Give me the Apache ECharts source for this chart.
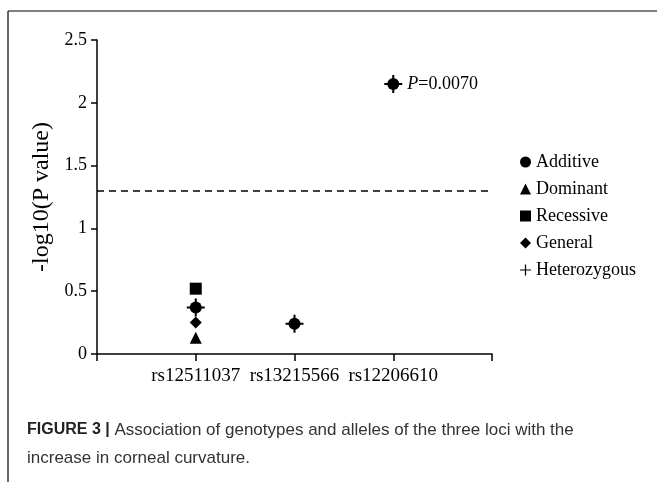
<!DOCTYPE html>
<html><head><meta charset="utf-8">
<script src="https://cdn.jsdelivr.net/npm/echarts@6/dist/echarts.min.js"></script>
<style>html,body{margin:0;padding:0;background:#fff}#c{width:657px;height:482px}</style>
</head><body><div id="c"></div>
<script>
const categories = ['', 'rs12511037', 'rs13215566', 'rs12206610', ''];
const additive     = [null, 0.37, 0.24, 2.15, null];
const dominant     = [null, 0.13, null, null, null];
const recessive    = [null, 0.52, null, null, null];
const general      = [null, 0.25, 0.24, 2.15, null];
const heterozygous = [null, 0.37, 0.24, 2.15, null];
const threshold = 1.301;
const yTicks = [0, 0.5, 1, 1.5, 2, 2.5];

const plusPath = 'path://M-0.9,-8 h1.8 v7.1 h7.1 v1.8 h-7.1 v7.1 h-1.8 v-7.1 h-7.1 v-1.8 h7.1 z';
const serif = '"Liberation Serif", "DejaVu Serif", serif';
const sans = '"Liberation Sans", Arial, sans-serif';

const chart = echarts.init(document.getElementById('c'));
function mk(name, data, symbol, size) {
  return {
    name, type: 'line', data, symbol, symbolSize: size,
    lineStyle: {opacity: 0}, itemStyle: {color: '#000'},
    showSymbol: true, silent: true, z: 3
  };
}
const series = [
  mk('Additive', additive, 'circle', 12),
  mk('Dominant', dominant, 'triangle', 12),
  mk('Recessive', recessive, 'rect', 12),
  mk('General', general, 'diamond', 12),
  mk('Heterozygous', heterozygous, plusPath, 18)
];
series[4].label = {
  show: true, position: 'right', distance: 5,
  formatter: p => p.dataIndex === 3 ? '{i|P}{n|=0.0070}' : '',
  rich: {
    i: {fontFamily: serif, fontStyle: 'italic', fontSize: 18, color: '#000'},
    n: {fontFamily: serif, fontSize: 18, color: '#000'}
  }
};
series[0].markLine = {
  silent: true, symbol: 'none',
  lineStyle: {color: '#000', type: [7, 5], width: 1.5},
  label: {show: false},
  data: [{yAxis: threshold}]
};

chart.setOption({
  animation: false,
  grid: {left: 97, right: 165, top: 40, bottom: 128},
  xAxis: {
    type: 'category', data: categories, boundaryGap: false,
    axisLine: {lineStyle: {color: '#000', width: 1.5}},
    axisTick: {show: true, length: 7, lineStyle: {color: '#000', width: 1.5}, interval: 0},
    axisLabel: {interval: 0, fontFamily: serif, fontSize: 19, color: '#000', margin: 13}
  },
  yAxis: {
    type: 'value', min: 0, max: 2.5, interval: 0.5,
    name: '-log10(P value)', nameLocation: 'middle', nameGap: 39,
    nameTextStyle: {fontFamily: serif, fontSize: 24, color: '#000'},
    splitLine: {show: false},
    axisLine: {show: true, lineStyle: {color: '#000', width: 1.5}},
    axisTick: {show: true, length: 6, lineStyle: {color: '#000', width: 1.5}},
    axisLabel: {fontFamily: serif, fontSize: 18, color: '#000', margin: 10,
      formatter: v => yTicks.includes(v) ? String(v) : ''}
  },
  legend: {
    orient: 'vertical', left: 515, top: 148, itemGap: 9,
    itemWidth: 11, itemHeight: 11,
    textStyle: {fontFamily: serif, fontSize: 18, lineHeight: 18, color: '#000'},
    data: series.map(s => ({name: s.name, icon: s.symbol}))
  },
  series,
  graphic: [
    {type: 'line', shape: {x1: 8, y1: 11, x2: 657, y2: 11}, style: {stroke: '#000', lineWidth: 1.2}},
    {type: 'line', shape: {x1: 8, y1: 11, x2: 8, y2: 482}, style: {stroke: '#000', lineWidth: 1.2}},
    {type: 'text', left: 27, top: 416, style: {
      text: '{b|FIGURE 3 |} Association of genotypes and alleles of the three loci with the\nincrease in corneal curvature.',
      rich: {b: {fontFamily: sans, fontWeight: 'bold', fontSize: 16, fill: '#222'}},
      fontFamily: sans, fontSize: 17, fill: '#333', lineHeight: 28
    }}
  ]
});
</script></body></html>
